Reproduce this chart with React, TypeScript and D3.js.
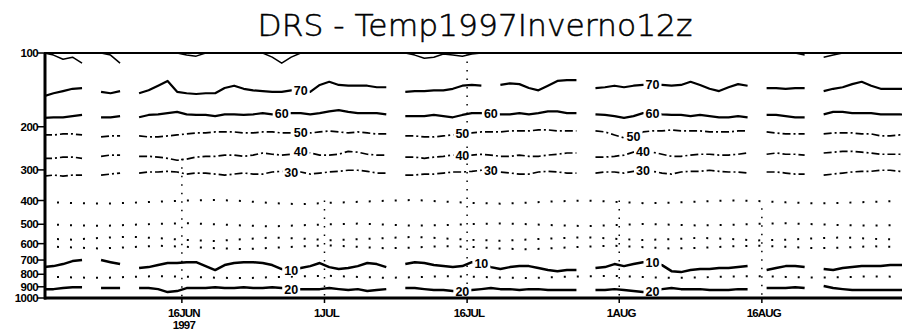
import React from 'react';
import * as d3 from 'd3';

// pressure levels on the y axis (hPa)
const levels = [100, 200, 300, 400, 500, 600, 700, 800, 900, 1000];

// x axis ticks
const tickDates = ['1997-06-16', '1997-07-01', '1997-07-16', '1997-08-01', '1997-08-16'];
const tickLabels = ['16JUN', '1JUL', '16JUL', '1AUG', '16AUG'];
// top (hPa) of the dotted vertical guide drawn at each tick
const guideTop = [270, 400, 100, 400, 430];

// pressure (hPa) of each isotherm, one value per day at 12z from 1 Jun 1997, null = missing
const cTop = [100, 102, 106, 104, 110, null, 100, 102, 110, null,
  100, 100, 100, 100, 100, 102, 103, 100, 100, 100,
  100, 100, 100, 100, 104, 110, 104, 100, 100, 100,
  100, 100, 100, 100, 100, 100, 100, null, 100, 102,
  105, 104, 101, 102, 103, 101, 100, 100, 100, 100,
  100, 100, 100, 100, 100, 100, 100, null, 100, 100,
  100, 100, 100, 100, 100, 100, 100, 100, 100, 100,
  100, 100, 100, 100, 100, null, 100, 100, 100, 100,
  102, null, 104, 102, 100, 100, 100, 100, 100, 100,
  100, 100];
const c70 = [150, 146, 143, 140, 139, null, 144, 146, 143, null,
  146, 142, 136, 130, 144, 146, 147, 146, 146, 139,
  136, 140, 142, 143, 144, 144, 142, 142, 144, 135,
  131, 135, 136, 136, 136, 138, 138, null, 144, 143,
  143, 142, 142, 140, 136, 135, 136, null, 135, 133,
  134, 139, 142, 136, 130, 129, 129, null, 139, 138,
  136, 138, 136, 135, 135, 135, 136, 135, 131, 135,
  140, 143, 138, 134, 136, null, 139, 139, 140, 139,
  139, null, 143, 140, 138, 134, 131, 136, 140, 140,
  140, 140];
const c60 = [184, 183, 183, 181, 179, null, 183, 183, 181, null,
  183, 179, 178, 176, 174, 178, 179, 179, 181, 178,
  178, 179, 178, 176, 178, 176, 176, 176, 178, 176,
  173, 171, 174, 176, 176, 176, 178, null, 181, 181,
  181, 179, 181, 183, 179, 176, 176, 176, 178, 178,
  176, 178, 176, 173, 173, 176, 176, null, 178, 179,
  181, 184, 181, 176, 176, 178, 179, 179, 181, 179,
  181, 183, 183, 181, 183, null, 179, 179, 181, 183,
  183, null, 178, 174, 174, 176, 176, 176, 178, 178,
  178, 179];
const c50 = [216, 216, 214, 214, 216, null, 220, 218, 218, null,
  218, 220, 220, 218, 216, 214, 212, 212, 210, 210,
  210, 212, 212, 210, 210, 212, 212, 212, 212, 210,
  208, 210, 212, 210, 212, 214, 214, null, 218, 218,
  220, 220, 218, 216, 214, 212, 210, 210, 210, 208,
  208, 208, 206, 206, 208, 208, 208, null, 208, 210,
  216, 222, 220, 210, 208, 208, 206, 208, 208, 208,
  210, 210, 210, 208, 208, null, 210, 212, 214, 214,
  214, null, 214, 212, 212, 212, 214, 214, 218, 218,
  216, 216];
const c40 = [269, 269, 266, 266, 269, null, 264, 261, 261, null,
  264, 264, 266, 269, 274, 271, 266, 264, 264, 261,
  261, 264, 261, 256, 259, 261, 259, 252, 256, 261,
  261, 259, 252, 254, 259, 261, 261, null, 266, 266,
  269, 266, 264, 261, 261, 261, 259, 261, 264, 264,
  261, 264, 264, 261, 259, 256, 256, null, 266, 266,
  264, 261, 254, 252, 254, 259, 264, 264, 261, 259,
  259, 261, 261, 259, 256, null, 259, 256, 259, 259,
  261, null, 256, 254, 252, 252, 254, 256, 259, 259,
  259, 261];
const c30 = [318, 315, 318, 315, 315, null, 315, 312, 309, null,
  309, 306, 306, 304, 306, 312, 309, 309, 312, 315,
  312, 309, 312, 312, 306, 304, 306, 306, 312, 309,
  306, 304, 301, 301, 304, 309, 309, null, 315, 315,
  312, 312, 309, 306, 306, 304, 301, 301, 306, 309,
  312, 312, 306, 304, 306, 309, 309, null, 309, 306,
  306, 309, 304, 301, 304, 309, 312, 306, 304, 304,
  301, 304, 306, 306, 309, null, 306, 306, 309, 312,
  312, null, 315, 312, 309, 306, 304, 304, 301, 301,
  304, 306];
const c10 = [748, 741, 727, 707, 700, null, 700, 714, 727, null,
  755, 748, 734, 720, 720, 714, 714, 741, 769, 734,
  720, 714, 714, 720, 734, 762, 769, 755, 741, 720,
  748, 762, 755, 741, 720, 727, 748, null, 727, 714,
  720, 734, 741, 748, 741, 714, 720, 748, 762, 748,
  741, 741, 755, 769, 777, 769, 769, null, 755, 748,
  727, 741, 727, 714, 714, 734, 777, 784, 769, 762,
  762, 755, 755, 748, 741, null, 769, 755, 741, 741,
  748, null, 762, 769, 755, 748, 741, 741, 741, 734,
  734, 734];
const c20 = [920, 920, 911, 903, 903, null, 911, 911, 911, null,
  911, 911, 920, 946, 937, 911, 911, 911, 903, 911,
  911, 903, 911, 911, 903, 911, 920, 920, 920, 920,
  911, 920, 928, 920, 937, 928, 920, null, 911, 911,
  920, 928, 928, 937, 937, 928, 920, 911, 920, 920,
  928, 920, 920, 928, 928, 928, 928, null, 928, 928,
  920, 928, 937, 946, 937, 920, 911, 920, 920, 920,
  928, 928, 928, 920, 920, null, 911, 911, 911, 903,
  911, null, 894, 911, 920, 928, 928, 928, 928, 928,
  928, 928];

// faint dotted isotherms, one value every 3 days
const dM20 = [405, 410, 412, 409, 404, 400, 398, 402, 410, 414, 409, 405, 401, 398, 404, 409, 412, 408, 403, 400, 405, 410, 408, 404, 400, 402, 407, 411, 409, 405, 402];
const dM10 = [500, 505, 508, 503, 498, 495, 500, 506, 510, 505, 500, 497, 502, 507, 504, 499, 496, 500, 505, 509, 504, 499, 502, 506, 503, 498, 495, 500, 504, 507, 503];
const d0a = [572, 578, 568, 562, 570, 580, 585, 575, 566, 572, 581, 576, 569, 563, 571, 579, 584, 577, 570, 565, 573, 580, 575, 568, 574, 582, 578, 571, 566, 573, 578];
const d0b = [615, 622, 628, 620, 612, 618, 626, 632, 624, 616, 610, 618, 627, 622, 614, 619, 628, 633, 625, 617, 612, 620, 628, 624, 616, 611, 618, 626, 623, 615, 619];
const d15 = [818, 824, 828, 820, 814, 819, 826, 830, 822, 816, 812, 820, 827, 823, 815, 818, 825, 829, 821, 815, 813, 821, 828, 824, 817, 814, 820, 826, 822, 816, 819];

const t0 = Date.UTC(1997, 5, 1, 12);
const dayDate = (d: number) => new Date(t0 + d * 864e5);

const contours = [
  { name: '', values: cTop, labelDays: [] as number[], kind: 'thin' },
  { name: '70', values: c70, labelDays: [27, 64], kind: 'solid' },
  { name: '60', values: c60, labelDays: [25, 47, 64], kind: 'solid' },
  { name: '50', values: c50, labelDays: [27, 44, 62], kind: 'dash' },
  { name: '40', values: c40, labelDays: [27, 44, 63], kind: 'dash' },
  { name: '30', values: c30, labelDays: [26, 47, 63], kind: 'dash' },
  { name: '10', values: c10, labelDays: [26, 46, 64], kind: 'bold' },
  { name: '20', values: c20, labelDays: [26, 44, 64], kind: 'bold' },
];
const dotted = [dM20, dM10, d0a, d0b, d15];

const styles: Record<string, { w: number; dash?: string }> = {
  thin: { w: 1.5 },
  solid: { w: 2.2 },
  dash: { w: 1.7, dash: '8 3 2 3' },
  bold: { w: 2.5 },
};

export default function App() {
  const W = 902, H = 336;
  const left = 44, top = 53, bottom = 298;
  const x = d3.scaleUtc().domain([dayDate(0), dayDate(91)]).range([left, left + 91 * 9.508]);
  const y = d3.scaleLog().domain([100, 1000]).range([top, bottom]);

  const line = d3.line<[number, number | null]>()
    .defined((d) => d[1] != null)
    .x((d) => x(dayDate(d[0])))
    .y((d) => y(d[1] as number));

  const font = '"Liberation Sans", Arial, sans-serif';

  return (
    <svg width={W} height={H} style={{ position: 'absolute', left: 0, top: 0, background: '#fff' }}>
      <defs>
        <clipPath id="plot">
          <rect x={left} y={top} width={W - left} height={bottom - top} />
        </clipPath>
      </defs>
      <rect width={W} height={H} fill="#fff" />

      <text x={475} y={36} textAnchor="middle" fontFamily='"DejaVu Sans", sans-serif' fontWeight={200}
        fontSize={31} textLength={435} lengthAdjust="spacingAndGlyphs" fill="#000"
        stroke="#000" strokeWidth={0.5}>
        DRS - Temp1997Inverno12z
      </text>

      <g clipPath="url(#plot)">
        {tickDates.map((t, i) => (
          <line key={t} x1={x(new Date(t + 'T00:00Z'))} x2={x(new Date(t + 'T00:00Z'))}
            y1={y(guideTop[i])} y2={bottom} stroke="#000" strokeWidth={1.5} strokeDasharray="1.5 7" />
        ))}
        {dotted.map((vals, i) => (
          <path key={i} d={line(vals.map((v, j) => [j * 3, v] as [number, number]))!}
            fill="none" stroke="#000" strokeWidth={2} strokeDasharray="2 11" />
        ))}
        {contours.map((c) => (
          <path key={c.name || 'top'} d={line(c.values.map((v, j) => [j, v] as [number, number | null]))!}
            fill="none" stroke="#000" strokeWidth={styles[c.kind].w}
            strokeDasharray={styles[c.kind].dash} strokeLinejoin="round" />
        ))}
        {contours.flatMap((c) => c.labelDays.map((d) => {
          const v = c.values[d] as number;
          const cx = x(dayDate(d)), cy = y(v);
          return (
            <g key={c.name + d}>
              <rect x={cx - 9} y={cy - 6} width={18} height={12} fill="#fff" />
              <text x={cx} y={cy + 4.5} textAnchor="middle" fontFamily={font} fontWeight="bold"
                fontSize={12.5} fill="#000">{c.name}</text>
            </g>
          );
        }))}
      </g>

      {/* frame */}
      <line x1={left} x2={W} y1={top} y2={top} stroke="#000" strokeWidth={2} />
      <line x1={left} x2={W} y1={bottom} y2={bottom} stroke="#000" strokeWidth={3} />
      <line x1={left + 1} x2={left + 1} y1={top} y2={bottom + 1.5} stroke="#000" strokeWidth={3} />

      {/* y axis */}
      {levels.map((p) => (
        <g key={p}>
          <line x1={37} x2={left} y1={y(p)} y2={y(p)} stroke="#000" strokeWidth={1.5} />
          <text x={38} y={y(p) + 4} textAnchor="end" fontFamily={font} fontWeight="bold"
            fontSize={11.5} letterSpacing={-0.6} fill="#000">{p}</text>
        </g>
      ))}

      {/* x axis */}
      {tickDates.map((t, i) => {
        const tx = x(new Date(t + 'T00:00Z'));
        return (
          <g key={t}>
            <line x1={tx} x2={tx} y1={bottom} y2={bottom + 5} stroke="#000" strokeWidth={1.5} />
            <text x={tx + 2} y={317} textAnchor="middle" fontFamily={font} fontWeight="bold"
              fontSize={11.5} letterSpacing={-0.8} fill="#000">{tickLabels[i]}</text>
            {i === 0 && (
              <text x={tx + 2} y={329} textAnchor="middle" fontFamily={font} fontWeight="bold"
                fontSize={11.5} letterSpacing={-0.8} fill="#000">1997</text>
            )}
          </g>
        );
      })}
    </svg>
  );
}
